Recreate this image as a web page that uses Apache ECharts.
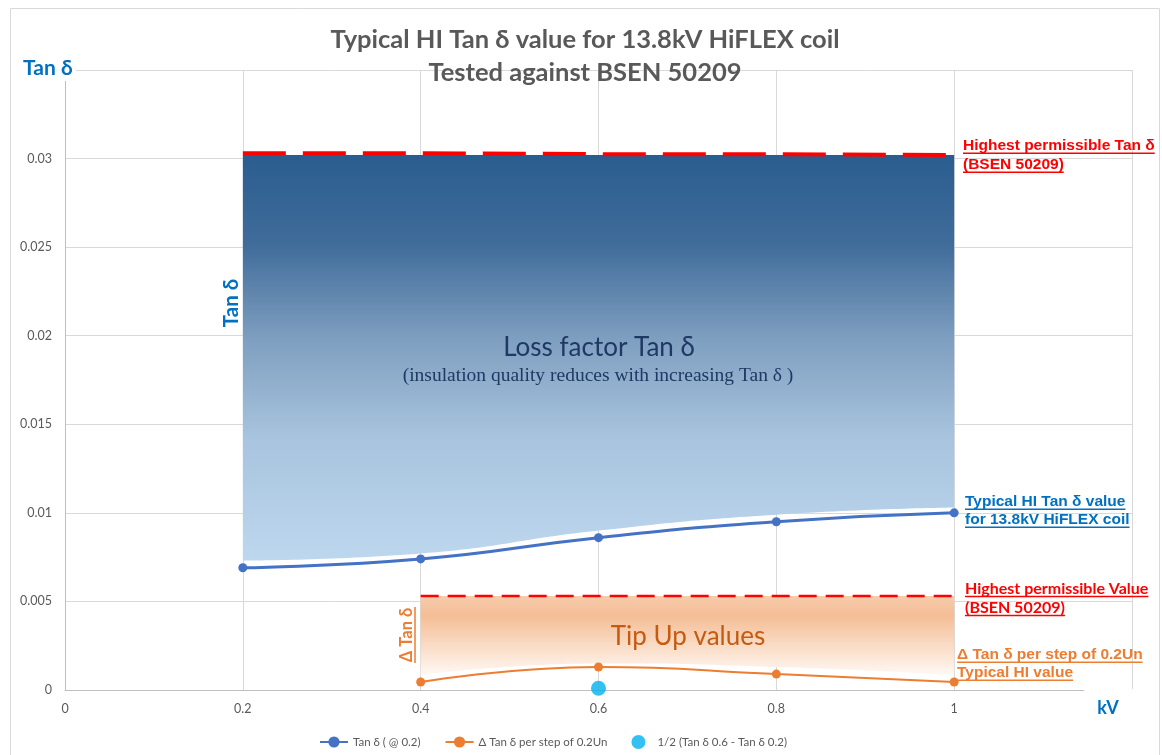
<!DOCTYPE html>
<html>
<head>
<meta charset="utf-8">
<script src="https://cdn.jsdelivr.net/npm/echarts@6/dist/echarts.min.js"></script>
<style>html,body{margin:0;padding:0;background:#fff}#chart{width:1162px;height:755px}</style>
</head>
<body>
<div id="chart"></div>
<script>
// ---- data ----
const kvCategories = ['0', '0.2', '0.4', '0.6', '0.8', '1', '1.2'];
const kvSteps = ['0.2', '0.4', '0.6', '0.8', '1'];
const tanDelta = [0.0069, 0.0074, 0.0086, 0.0095, 0.0100];
const deltaSteps = ['0.4', '0.6', '0.8', '1'];
const deltaTan = [0.00045, 0.0013, 0.0009, 0.00045];
const halfDiffPoint = [['0.6', 0.0001]];
const limitTan = [0.0303, 0.0303, 0.03025, 0.03025, 0.0302];
const limitDelta = [0.0053, 0.0053, 0.0053, 0.0053];
const lossTop = [0.0302, 0.0302, 0.0302, 0.0302, 0.0302];
const lossBase = [0.0073, 0.0077, 0.0090, 0.0099, 0.0103];
const tipTop = [0.0053, 0.0053, 0.0053, 0.0053];
const tipBase = [0.00085, 0.0015, 0.0013, 0.00085];
const yTicks = [0, 0.005, 0.01, 0.015, 0.02, 0.025, 0.03];

const pairs = (xs, ys) => xs.map((x, i) => [x, ys[i]]);
const diffPairs = (xs, top, base) => xs.map((x, i) => [x, +(top[i] - base[i]).toFixed(6)]);

const chart = echarts.init(document.getElementById('chart'));

const mctx = document.createElement('canvas').getContext('2d');
function measure(text, font) { mctx.font = font; return mctx.measureText(text).width; }

function uText(x, y, text, size, weight, family, color) {
  const font = weight + ' ' + size + 'px ' + family;
  const w = measure(text, font);
  return [
    { type: 'text', x: x, y: y, z: 100, style: { text: text, font: font, fill: color, align: 'left', verticalAlign: 'middle' } },
    { type: 'line', z: 100, shape: { x1: x, y1: y + size * 0.47, x2: x + w, y2: y + size * 0.47 }, style: { stroke: color, lineWidth: 1.4 } }
  ];
}

const ARIAL = '"Liberation Sans", Arial, sans-serif';
const CAL = 'Lato, "Open Sans", sans-serif';

const graphics = [
  { type: 'rect', z: -10, shape: { x: 10.5, y: 8.5, width: 1149, height: 760 }, style: { fill: 'none', stroke: '#d9d9d9', lineWidth: 1 } },
  { type: 'text', x: 585, y: 40, z: 100, style: { text: 'Typical HI Tan δ value for 13.8kV HiFLEX coil', font: 'bold 25.5px ' + CAL, fill: '#595959', align: 'center', verticalAlign: 'middle' } },
  { type: 'text', x: 585, y: 73, z: 100, style: { text: 'Tested against BSEN 50209', font: 'bold 25.5px ' + CAL, fill: '#595959', align: 'center', verticalAlign: 'middle' } },
  { type: 'rect', z: 90, shape: { x: 12, y: 56, width: 64, height: 25 }, style: { fill: '#fff' } },
  { type: 'text', x: 23, y: 68, z: 100, style: { text: 'Tan δ', font: 'bold 21px ' + CAL, fill: '#0070c0', align: 'left', verticalAlign: 'middle' } },
  { type: 'rect', z: 90, shape: { x: 1084, y: 689, width: 50, height: 3 }, style: { fill: '#fff' } },
  { type: 'text', x: 1108, y: 708, z: 100, style: { text: 'kV', font: 'bold 18px ' + CAL, fill: '#0070c0', align: 'center', verticalAlign: 'middle' } },
  { type: 'text', x: 599, y: 348, z: 100, style: { text: 'Loss factor Tan δ', font: '26px ' + CAL, fill: '#1f3864', align: 'center', verticalAlign: 'middle' } },
  { type: 'text', x: 598, y: 376, z: 100, style: { text: '(insulation quality reduces with increasing Tan δ )', font: '19.5px "Liberation Serif", "DejaVu Serif", serif', fill: '#1f3864', align: 'center', verticalAlign: 'middle' } },
  { type: 'text', x: 688, y: 637, z: 100, style: { text: 'Tip Up values', font: '26px ' + CAL, fill: '#c55a11', align: 'center', verticalAlign: 'middle' } },
  { type: 'text', x: 231, y: 303, z: 100, rotation: Math.PI / 2, style: { text: 'Tan δ', font: 'bold 20.5px ' + CAL, fill: '#0070c0', align: 'center', verticalAlign: 'middle' } },
  { type: 'text', x: 407, y: 635, z: 100, rotation: Math.PI / 2, style: { text: 'Δ Tan δ', font: 'bold 16.5px ' + CAL, fill: '#ed7d31', align: 'center', verticalAlign: 'middle' } },
  { type: 'line', z: 100, shape: { x1: 415, y1: 607, x2: 415, y2: 663 }, style: { stroke: '#ed7d31', lineWidth: 1.5 } }
].concat(
  uText(963, 146, 'Highest permissible Tan δ', 15.5, 'bold', ARIAL, '#ff0000'),
  uText(963, 165, '(BSEN 50209)', 15.5, 'bold', ARIAL, '#ff0000'),
  uText(965, 502, 'Typical HI Tan δ value', 15.5, 'bold', ARIAL, '#0070c0'),
  uText(965, 520, 'for 13.8kV HiFLEX coil', 15.5, 'bold', ARIAL, '#0070c0'),
  uText(965, 589, 'Highest permissible Value', 16, 'bold', CAL, '#ff0000'),
  uText(965, 608, '(BSEN 50209)', 16, 'bold', CAL, '#ff0000'),
  uText(957, 655, 'Δ Tan δ per step of 0.2Un', 15.5, 'bold', ARIAL, '#ed7d31'),
  uText(957, 673, 'Typical HI value', 15.5, 'bold', ARIAL, '#ed7d31')
);

const blueGrad = new echarts.graphic.LinearGradient(0, 0, 0, 1, [
  { offset: 0, color: '#2a5d8f' },
  { offset: 0.22, color: '#406c9a' },
  { offset: 0.46, color: '#80a0c1' },
  { offset: 0.7, color: '#a8c4de' },
  { offset: 1, color: '#bdd7ee' }
]);
const orangeGrad = new echarts.graphic.LinearGradient(0, 0, 0, 1, [
  { offset: 0, color: '#f7cbab' },
  { offset: 0.25, color: '#f4be96' },
  { offset: 1, color: '#fff8f3' }
]);

const option = {
  animation: false,
  textStyle: { fontFamily: CAL },
  grid: { left: 65, right: 30, top: 70, bottom: 65 },
  legend: {
    left: 314, top: 730, itemWidth: 28, itemHeight: 14, itemGap: 24,
    textStyle: { color: '#595959', fontSize: 11.5, fontFamily: CAL },
    data: ['Tan δ ( @ 0.2)', 'Δ Tan δ per step of 0.2Un', '1/2 (Tan δ 0.6 - Tan δ 0.2)']
  },
  xAxis: {
    type: 'category', data: kvCategories, boundaryGap: false,
    axisLine: { show: true, lineStyle: { color: '#bfbfbf' } },
    axisTick: { show: false },
    axisLabel: { color: '#595959', fontSize: 12.5, margin: 12, interval: 0, formatter: v => v === '1.2' ? '' : v },
    splitLine: { show: true, interval: 0, lineStyle: { color: '#d9d9d9' } }
  },
  yAxis: {
    type: 'value', min: 0, max: 0.035, interval: 0.005,
    axisLine: { show: true, lineStyle: { color: '#bfbfbf' } },
    axisTick: { show: false },
    axisLabel: { color: '#595959', fontSize: 12.5, margin: 13, formatter: v => yTicks.some(t => Math.abs(t - v) < 1e-9) ? String(+v.toFixed(3)) : '' },
    splitLine: { show: true, lineStyle: { color: '#d9d9d9' } }
  },
  series: [
    { name: 'lossBase', type: 'line', stack: 'loss', smooth: true, symbol: 'none', silent: true, z: 1,
      lineStyle: { opacity: 0 }, data: pairs(kvSteps, lossBase) },
    { name: 'lossBand', type: 'line', stack: 'loss', smooth: true, symbol: 'none', silent: true, z: 1,
      lineStyle: { opacity: 0 }, areaStyle: { color: blueGrad, opacity: 1 }, data: diffPairs(kvSteps, lossTop, lossBase) },
    { name: 'tipBase', type: 'line', stack: 'tip', smooth: true, symbol: 'none', silent: true, z: 1,
      lineStyle: { opacity: 0 }, data: pairs(deltaSteps, tipBase) },
    { name: 'tipBand', type: 'line', stack: 'tip', smooth: true, symbol: 'none', silent: true, z: 1,
      lineStyle: { opacity: 0 }, areaStyle: { color: orangeGrad, opacity: 1 }, data: diffPairs(deltaSteps, tipTop, tipBase) },
    { name: 'limitTan', type: 'line', symbol: 'none', silent: true, z: 3,
      lineStyle: { color: '#ff0000', width: 4, type: [43, 17], cap: 'butt' }, data: pairs(kvSteps, limitTan) },
    { name: 'limitDelta', type: 'line', symbol: 'none', silent: true, z: 3,
      lineStyle: { color: '#ff0000', width: 2.5, type: [18, 9], cap: 'butt' }, data: pairs(deltaSteps, limitDelta) },
    { name: 'Tan δ ( @ 0.2)', type: 'line', smooth: true, symbol: 'circle', symbolSize: 9, z: 5,
      itemStyle: { color: '#4472c4' }, lineStyle: { color: '#4472c4', width: 3 }, data: pairs(kvSteps, tanDelta) },
    { name: 'Δ Tan δ per step of 0.2Un', type: 'line', smooth: true, symbol: 'circle', symbolSize: 9, z: 5,
      itemStyle: { color: '#ed7d31' }, lineStyle: { color: '#ed7d31', width: 2 }, data: pairs(deltaSteps, deltaTan) },
    { name: '1/2 (Tan δ 0.6 - Tan δ 0.2)', type: 'scatter', symbol: 'circle', symbolSize: 15, z: 6,
      itemStyle: { color: '#00b0f0' }, data: halfDiffPoint }
  ],
  graphic: graphics
};
chart.setOption(option);
</script>
</body>
</html>
